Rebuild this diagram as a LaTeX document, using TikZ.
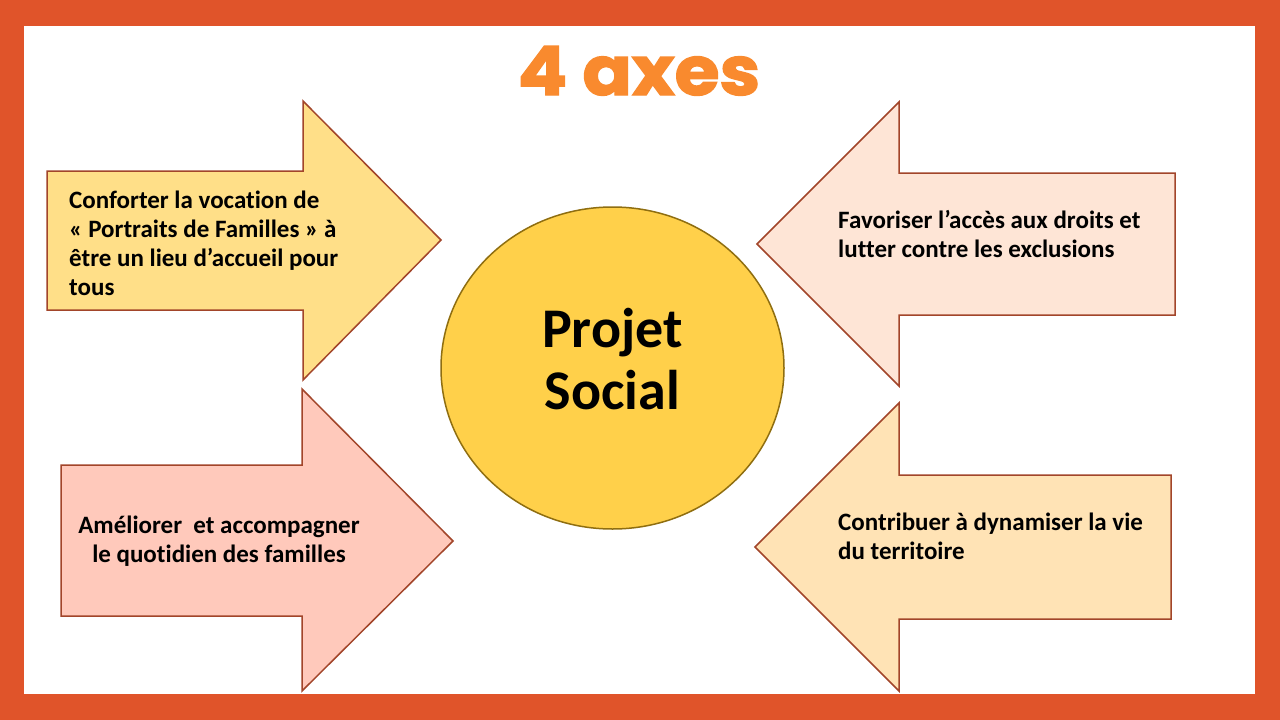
\documentclass[tikz,border=0pt]{standalone}
\usepackage{fontspec}
\usetikzlibrary{shapes.geometric}
\setmainfont{Carlito}[Ligatures=NoCommon]
\newfontfamily\titlefont{Poppins}[BoldFeatures={FakeBold=2}]
\definecolor{frameor}{HTML}{E0542A}
\definecolor{titleor}{HTML}{F98A2E}
\definecolor{edgebr}{HTML}{A2452A}
\definecolor{fillA}{HTML}{FFDF88}
\definecolor{fillB}{HTML}{FEE5D6}
\definecolor{fillC}{HTML}{FFC9BB}
\definecolor{fillD}{HTML}{FFE3B5}
\definecolor{circfill}{HTML}{FFD04A}
\definecolor{circedge}{HTML}{8F6E10}
\tikzset{
  bigarrow/.style={draw=edgebr, line width=1.5pt, line join=miter},
  axetext/.style={inner sep=0pt, font=\fontsize{25}{29}\selectfont\bfseries, text=black},
}
\begin{document}
\begin{tikzpicture}[x=1pt,y=-1pt]
\useasboundingbox (0,0) rectangle (1280,720);
\fill[frameor] (0,0) rectangle (1280,720);
\fill[white] (24,26) rectangle (1255,694);
% title
\node[inner sep=0pt, text=titleor, font=\titlefont\bfseries\fontsize{68}{68}\selectfont, anchor=base, xscale=1.07] (title) at (639,95) {4 axes};
% arrow 1 (top left, pointing right)
\draw[bigarrow, fill=fillA] (47,171) -- (303,171) -- (303,101) -- (441,240) -- (303,380) -- (303,310) -- (47,310) -- cycle;
% arrow 2 (top right, pointing left)
\draw[bigarrow, fill=fillB] (1175,173) -- (899,173) -- (899,102) -- (757,244) -- (899,386) -- (899,315) -- (1175,315) -- cycle;
% arrow 3 (bottom left, pointing right)
\draw[bigarrow, fill=fillC] (61,465) -- (302,465) -- (302,389) -- (453,541) -- (302,691) -- (302,616) -- (61,616) -- cycle;
% arrow 4 (bottom right, pointing left)
\draw[bigarrow, fill=fillD] (1171,475) -- (899,475) -- (899,403) -- (755,547) -- (899,691) -- (899,619) -- (1171,619) -- cycle;
% centre
\node[ellipse, minimum width=343pt, minimum height=322pt, fill=circfill, draw=circedge, line width=1.5pt, inner sep=0pt] (centre) at (612.5,368) {};
\node[inner sep=0pt, font=\fontsize{56}{62}\selectfont\bfseries, align=center, anchor=base] (ctext) at (612.5,409) {Projet\\Social};
% texts
\node[axetext, align=left, anchor=base west] (t1) at (69,295) {Conforter la vocation de\\« Portraits de Familles » à\\être un lieu d’accueil pour\\tous};
\node[axetext, align=left, anchor=base west] (t2) at (838,257) {Favoriser l’accès aux droits et\\lutter contre les exclusions};
\node[axetext, align=center, anchor=base] (t3) at (219,562) {Améliorer\ \ et accompagner\\le quotidien des familles};
\node[axetext, align=left, anchor=base west] (t4) at (838,559) {Contribuer à dynamiser la vie\\du territoire};
\end{tikzpicture}
\end{document}
